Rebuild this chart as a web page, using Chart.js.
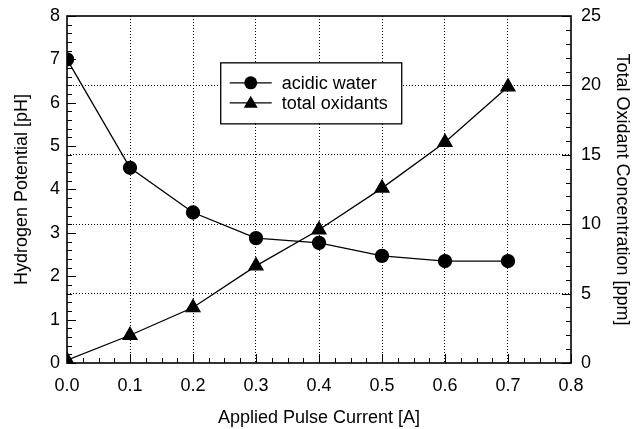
<!DOCTYPE html>
<html>
<head>
<meta charset="utf-8">
<script src="https://cdn.jsdelivr.net/npm/chart.js@4/dist/chart.umd.min.js"></script>
<style>
  html, body { margin: 0; padding: 0; background: #fff; }
  #wrap { width: 640px; height: 429px; }
</style>
</head>
<body>
<div id="wrap"><canvas id="phChart"></canvas></div>
<script>
const current = [0.0, 0.1, 0.2, 0.3, 0.4, 0.5, 0.6, 0.7];
const acidicWater = [7.0, 4.5, 3.47, 2.88, 2.77, 2.47, 2.35, 2.35];
const totalOxidants = [0.2, 2.0, 4.0, 7.0, 9.6, 12.6, 15.9, 19.9];
const seriesNames = ['acidic water', 'total oxidants'];

const FONT = '"Liberation Sans", Arial, sans-serif';

// inner ticks, top/right frame and the boxed legend
const frame = {
  id: 'frame',
  afterDraw(chart) {
    const ctx = chart.ctx;
    const a = chart.chartArea;
    const x = chart.scales.x, y = chart.scales.y, y1 = chart.scales.y1;
    ctx.save();
    ctx.strokeStyle = '#000';
    ctx.lineWidth = 1.6;
    ctx.strokeRect(a.left, a.top, a.right - a.left, a.bottom - a.top);
    ctx.lineWidth = 1;
    ctx.beginPath();
    for (let v = 0; v <= 0.8001; v += 0.025) {
      const px = Math.round(x.getPixelForValue(v)) + 0.5;
      const major = Math.abs(v * 10 - Math.round(v * 10)) < 1e-6;
      ctx.moveTo(px, a.bottom);
      ctx.lineTo(px, a.bottom - (major ? 9 : 5));
    }
    for (let v = 0; v <= 8.001; v += 0.2) {
      const py = Math.round(y.getPixelForValue(v)) + 0.5;
      const major = Math.abs(v - Math.round(v)) < 1e-6;
      ctx.moveTo(a.left, py);
      ctx.lineTo(a.left + (major ? 9 : 5), py);
    }
    for (let v = 0; v <= 25.001; v += 1) {
      const py = Math.round(y1.getPixelForValue(v)) + 0.5;
      const major = v % 5 === 0;
      ctx.moveTo(a.right, py);
      ctx.lineTo(a.right - (major ? 9 : 5), py);
    }
    ctx.stroke();

    // legend
    const lx = x.getPixelForValue(0.244), ly = y.getPixelForValue(6.92);
    const lw = 181, lh = 61;
    ctx.fillStyle = '#fff';
    ctx.fillRect(lx, ly, lw, lh);
    ctx.lineWidth = 1.3;
    ctx.strokeRect(lx, ly, lw, lh);
    ctx.font = '18px ' + FONT;
    ctx.fillStyle = '#000';
    ctx.textBaseline = 'middle';
    const rows = [ly + 20, ly + 40];
    rows.forEach((ry, i) => {
      ctx.beginPath();
      ctx.moveTo(lx + 9, ry);
      ctx.lineTo(lx + 51, ry);
      ctx.stroke();
      ctx.beginPath();
      if (i === 0) {
        ctx.arc(lx + 30, ry, 6.5, 0, Math.PI * 2);
      } else {
        ctx.moveTo(lx + 30, ry - 7);
        ctx.lineTo(lx + 37, ry + 5);
        ctx.lineTo(lx + 23, ry + 5);
        ctx.closePath();
      }
      ctx.fill();
      ctx.fillText(seriesNames[i], lx + 61, ry + 1);
    });
    ctx.restore();
  }
};

const tickFont = { family: FONT, size: 18 };
const titleFont = { family: FONT, size: 18 };

// fixed axis sizes so the plot box sits where the original one does
const fitY = w => s => { s.width = w; s.paddingTop = 0; s.paddingBottom = 0; };

const ctx = document.getElementById('phChart').getContext('2d');
new Chart(ctx, {
  type: 'line',
  data: {
    datasets: [
      {
        label: seriesNames[0],
        data: current.map((c, i) => ({ x: c, y: acidicWater[i] })),
        yAxisID: 'y',
        borderColor: '#000',
        backgroundColor: '#000',
        borderWidth: 1.3,
        pointStyle: 'circle',
        pointRadius: 6.5,
        tension: 0
      },
      {
        label: seriesNames[1],
        data: current.map((c, i) => ({ x: c, y: totalOxidants[i] })),
        yAxisID: 'y1',
        borderColor: '#000',
        backgroundColor: '#000',
        borderWidth: 1.3,
        pointStyle: 'triangle',
        pointRadius: 8,
        tension: 0
      }
    ]
  },
  options: {
    responsive: true,
    maintainAspectRatio: false,
    animation: false,
    layout: { padding: { left: 0, right: 0, top: 16, bottom: 0 } },
    plugins: {
      legend: { display: false },
      tooltip: { enabled: false }
    },
    scales: {
      x: {
        type: 'linear',
        min: 0, max: 0.8,
        afterFit: s => { s.height = 66; s.paddingLeft = 0; s.paddingRight = 0; },
        ticks: {
          stepSize: 0.1,
          color: '#000',
          font: tickFont,
          padding: 12,
          callback: v => v.toFixed(1)
        },
        grid: {
          color: c => (c.tick && (c.tick.value === 0 || c.tick.value >= 0.79)) ? 'rgba(0,0,0,0)' : '#000',
          lineWidth: 1,
          drawTicks: false
        },
        border: { display: false, dash: [1, 2] },
        title: {
          display: true,
          text: 'Applied Pulse Current [A]',
          color: '#000',
          font: titleFont,
          padding: { top: 0, bottom: 0 }
        }
      },
      y: {
        position: 'left',
        min: 0, max: 8,
        afterFit: fitY(67),
        ticks: {
          stepSize: 1,
          color: '#000',
          font: tickFont,
          padding: 7
        },
        grid: { display: false, drawTicks: false },
        border: { display: false },
        title: {
          display: true,
          text: 'Hydrogen Potential [pH]',
          color: '#000',
          font: titleFont,
          padding: { top: 11, bottom: 4 }
        }
      },
      y1: {
        position: 'right',
        min: 0, max: 25,
        afterFit: fitY(69),
        ticks: {
          stepSize: 5,
          color: '#000',
          font: tickFont,
          padding: 10
        },
        grid: {
          color: c => (c.tick && (c.tick.value === 0 || c.tick.value === 25)) ? 'rgba(0,0,0,0)' : '#000',
          lineWidth: 1,
          drawTicks: false
        },
        border: { display: false, dash: [1, 2] },
        title: {
          display: true,
          text: 'Total Oxidant Concentration [ppm]',
          color: '#000',
          font: titleFont,
          padding: { top: 7, bottom: 4 }
        }
      }
    }
  },
  plugins: [frame]
});
</script>
</body>
</html>
